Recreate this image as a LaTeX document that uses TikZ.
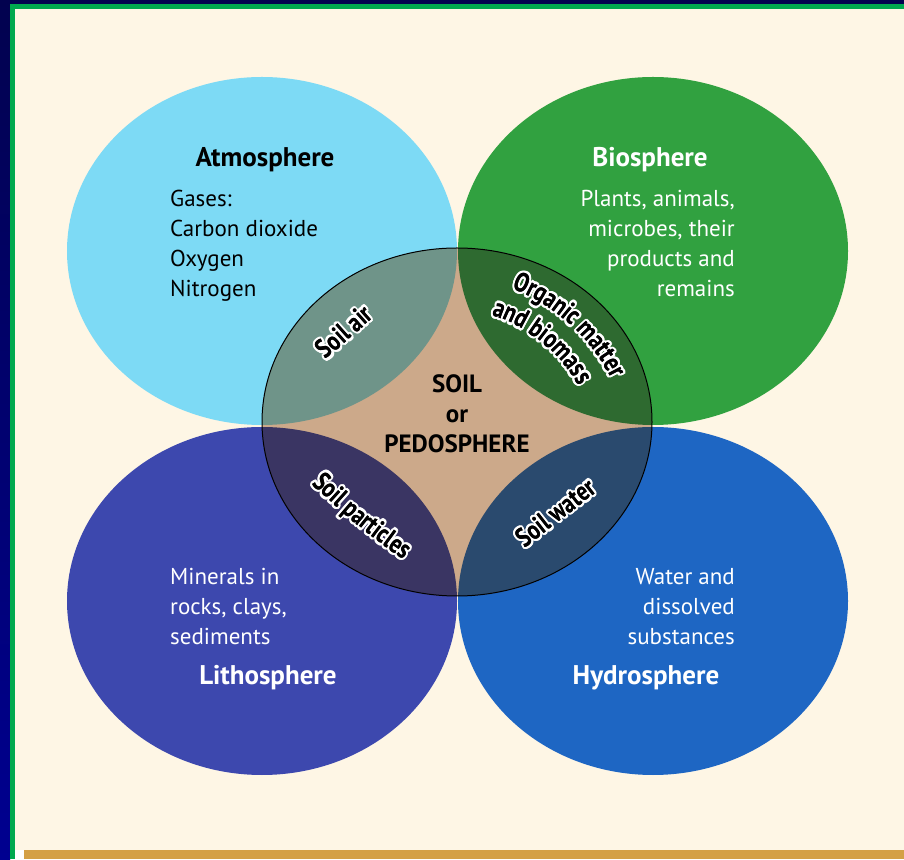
\documentclass[tikz,border=0pt]{standalone}
\usepackage{fontspec}
\setmainfont{PT Sans}
\usepackage{graphicx}
\usepackage{contour}
\usetikzlibrary{calc,decorations.text}
\definecolor{pagecream}{HTML}{FEF6E5}
\definecolor{framenavy}{HTML}{02024F}
\definecolor{framenavylow}{HTML}{000090}
\definecolor{framegreen}{HTML}{00A94F}
\definecolor{bargold}{HTML}{D4A045}
\definecolor{atmoblue}{HTML}{7DDAF5}
\definecolor{biogreen}{HTML}{31A140}
\definecolor{lithoblue}{HTML}{3D48AE}
\definecolor{hydroblue}{HTML}{1E66C3}
\definecolor{soiltan}{HTML}{CCA98A}
\definecolor{airmix}{HTML}{6F9489}
\definecolor{organicmix}{HTML}{2E6A30}
\definecolor{particlemix}{HTML}{3A3563}
\definecolor{watermix}{HTML}{2A4A6E}

\newcommand{\lblfont}{\fontsize{21.5}{21.5}\selectfont\bfseries}
\newcommand{\halochar}[1]{\scalebox{1}[1.25]{\contourlength{2pt}\contour{white}{#1}}}
\newcommand{\inkchar}[1]{\scalebox{1}[1.25]{#1}}

\begin{document}
\begin{tikzpicture}[x=1pt, y=1pt,
    title/.style={font=\fontsize{27}{30}\selectfont\bfseries, inner sep=0pt},
    body/.style={font=\fontsize{23}{30}\selectfont, inner sep=0pt},
    bent/.style 2 args={decoration={text effects along path, text={#1}, text align=center,
        text effects/.cd, text along path, characters={text=black, inner sep=0pt, font=\lblfont},
        character command=#2}, decorate}]
    \useasboundingbox (0,0) rectangle (904,859);

    % Frame and page
    \shade[top color=framenavy, bottom color=framenavylow] (0,0) rectangle (10,859);
    \fill[framenavy] (0,855) rectangle (904,859);
    \fill[framegreen] (10,0) rectangle (15,855);
    \fill[framegreen] (10,850) rectangle (904,855);
    \fill[pagecream] (15,9) rectangle (904,850);
    \fill[white] (15,0) rectangle (24,9);
    \fill[bargold] (24,0) rectangle (904,9);

    % Centres of the five spheres
    \coordinate (atmo) at (262,608);
    \coordinate (bio) at (653,608);
    \coordinate (litho) at (262,258);
    \coordinate (hydro) at (653,258);
    \coordinate (soil) at (457,437);
    \coordinate (orgc) at (444,396);

    % Outer spheres
    \fill[atmoblue] (atmo) ellipse [x radius=195, y radius=174];
    \fill[biogreen] (bio) ellipse [x radius=195, y radius=174];
    \fill[lithoblue] (litho) ellipse [x radius=195, y radius=174];
    \fill[hydroblue] (hydro) ellipse [x radius=195, y radius=174];

    % Soil and its overlaps
    \fill[soiltan] (soil) ellipse [x radius=195, y radius=174];
    \begin{scope}
        \clip (soil) ellipse [x radius=195, y radius=174];
        \fill[airmix] (atmo) ellipse [x radius=195, y radius=174];
        \fill[organicmix] (bio) ellipse [x radius=195, y radius=174];
        \fill[particlemix] (litho) ellipse [x radius=195, y radius=174];
        \fill[watermix] (hydro) ellipse [x radius=195, y radius=174];
    \end{scope}
    \draw[black, line width=1pt] (soil) ellipse [x radius=195, y radius=174];

    % Sphere titles
    \node[title, anchor=base] (atmo-t) at (265,692) {Atmosphere};
    \node[title, anchor=base, text=white] (bio-t) at (650,692) {Biosphere};
    \node[title, anchor=base, text=white] (litho-t) at (268,174) {Lithosphere};
    \node[title, anchor=base, text=white] (hydro-t) at (646,174) {Hydrosphere};

    % Sphere contents
    \foreach \ln [count=\i] in {Gases:, Carbon dioxide, Oxygen, Nitrogen}
        \node[body, anchor=base west] (atmo-\i) at (170,682-30*\i) {\ln};
    \foreach \ln [count=\i] in {{Plants, animals,}, {microbes, their}, {products and}, remains}
        \node[body, anchor=base east, text=white] (bio-\i) at (735,682-30*\i) {\ln};
    \foreach \ln [count=\i] in {Minerals in, {rocks, clays,}, sediments}
        \node[body, anchor=base west, text=white] (litho-\i) at (170,304-30*\i) {\ln};
    \foreach \ln [count=\i] in {Water and, dissolved, substances}
        \node[body, anchor=base east, text=white] (hydro-\i) at (735,304-30*\i) {\ln};

    % Soil
    \node[title, font=\fontsize{25}{30}\selectfont\bfseries, anchor=base] (soil-1) at (457,466) {SOIL};
    \node[title, font=\fontsize{25}{30}\selectfont\bfseries, anchor=base] (soil-2) at (457,436) {or};
    \node[title, font=\fontsize{25}{30}\selectfont\bfseries, anchor=base] (soil-3) at (457,406) {PEDOSPHERE};

    % Curved labels, white halo first, then black letters
    \begin{scope}
        \lblfont
        \foreach \hl in {\halochar, \inkchar} {
            \path[bent={Soil air}{\hl}] (309,484) -- (391,557);
            \path[bent={Soil particles}{\hl}] (302,384) to[bend right=5] (414,292);
            \path[bent={Soil water}{\hl}] (510,299) -- (612,379);
            \path[bent={Organic matter}{\hl}] ($(orgc)+(87.7:187)$) arc[start angle=87.7, end angle=7.7, radius=187];
            \path[bent={and biomass}{\hl}] ($(orgc)+(91:155)$) arc[start angle=91, end angle=11, radius=155];
        }
    \end{scope}
\end{tikzpicture}
\end{document}
